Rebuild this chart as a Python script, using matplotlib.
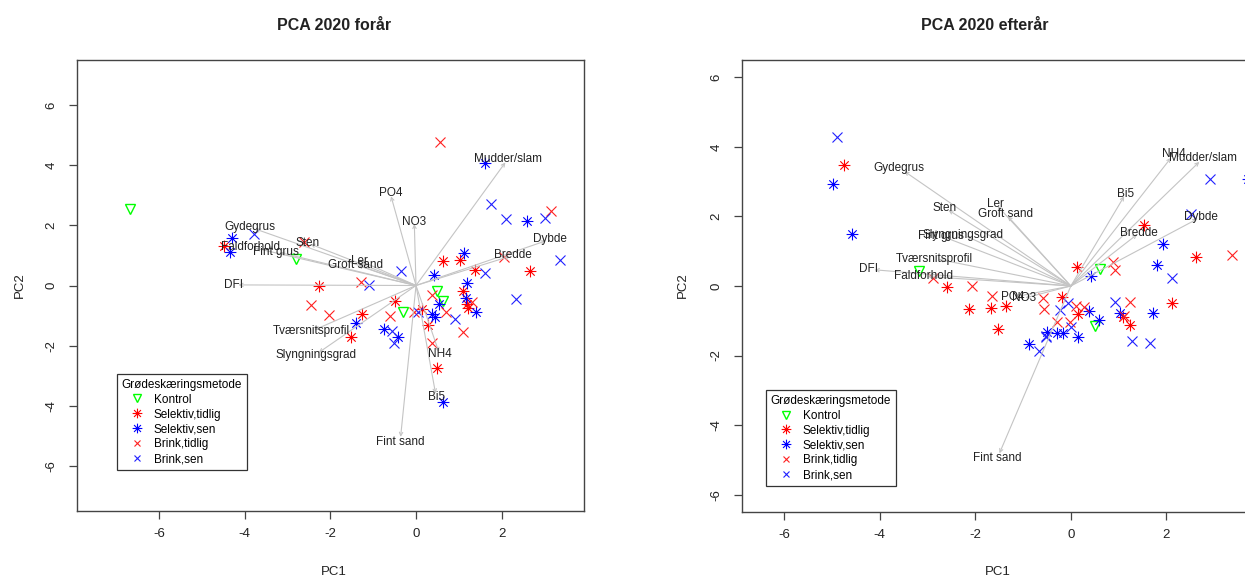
import matplotlib
matplotlib.use("Agg")
import matplotlib.pyplot as plt
from matplotlib.path import Path
from matplotlib.lines import Line2D

plt.rcParams["font.family"] = ["Liberation Sans", "DejaVu Sans"]
plt.rcParams["axes.unicode_minus"] = False

GROUPS = ["Kontrol", "Selektiv,tidlig", "Selektiv,sen", "Brink,tidlig", "Brink,sen"]

# ---- PCA 2020 forår: scores (PC1, PC2) per group
forar_kontrol = [(-6.67, 2.56), (-2.80, 0.89), (0.50, -0.17), (0.62, -0.50), (-0.30, -0.89)]
forar_sel_tidlig = [(-4.48, 1.30), (-2.26, -0.02), (0.62, 0.83), (1.03, 0.86), (1.38, 0.53),
                    (2.65, 0.48), (-0.50, -0.50), (-1.25, -0.95), (-1.52, -1.70), (0.28, -1.30),
                    (0.50, -2.75), (1.10, -0.18), (1.20, -0.62), (1.22, -0.76), (0.15, -0.78)]
forar_sel_sen = [(-4.30, 1.58), (-4.35, 1.13), (1.62, 4.06), (2.59, 2.13), (1.13, 1.09),
                 (0.43, 0.36), (1.19, 0.09), (1.17, -0.42), (1.40, -0.89), (0.53, -0.61),
                 (0.37, -0.94), (0.45, -1.06), (-1.39, -1.24), (-0.74, -1.44), (-0.43, -1.72),
                 (0.62, -3.89)]
forar_brink_tidlig = [(0.56, 4.78), (3.15, 2.48), (2.05, 0.95), (-2.62, 1.45), (-1.28, 0.13),
                      (-2.45, -0.64), (-2.02, -0.97), (-0.60, -1.00), (-0.05, -0.88), (0.37, -0.31),
                      (0.70, -0.87), (1.10, -1.55), (0.38, -1.90), (1.30, -0.55)]
forar_brink_sen = [(-3.79, 1.70), (-0.35, 0.48), (-1.10, 0.03), (1.75, 2.70), (2.10, 2.20),
                   (3.00, 2.25), (3.35, 0.86), (1.62, 0.41), (2.33, -0.44), (0.90, -1.11),
                   (0.05, -0.87), (-0.52, -1.92), (-0.55, -1.50)]

# ---- PCA 2020 forår: variable loadings (label positions)
forar_vars = ["Mudder/slam", "PO4", "NO3", "Gydegrus", "Sten", "Faldforhold", "Fint grus",
              "Ler", "Groft sand", "DFI", "Dybde", "Bredde", "Tværsnitsprofil",
              "Slyngningsgrad", "NH4", "Bi5", "Fint sand"]
forar_load_x = [2.15, -0.60, -0.04, -3.87, -2.54, -3.86, -3.27, -1.31, -1.40, -4.27,
                3.12, 2.26, -2.44, -2.34, 0.55, 0.47, -0.37]
forar_load_y = [4.22, 3.06, 2.11, 1.94, 1.42, 1.28, 1.13, 0.83, 0.69, 0.02,
                1.53, 1.00, -1.52, -2.30, -2.28, -3.70, -5.19]

# ---- PCA 2020 efterår: scores
efter_kontrol = [(-3.17, 0.43), (0.61, 0.48), (0.51, -1.16)]
efter_sel_tidlig = [(-4.74, 3.47), (1.53, 1.75), (2.61, 0.84), (0.13, 0.55), (-2.60, -0.02),
                    (-2.13, -0.67), (-1.68, -0.63), (-1.36, -0.57), (-1.52, -1.23), (-0.18, -0.32),
                    (0.14, -0.80), (1.10, -0.88), (1.23, -1.11), (2.11, -0.48)]
efter_sel_sen = [(-4.97, 2.94), (-4.57, 1.50), (1.92, 1.22), (1.81, 0.59), (0.42, 0.28),
                 (1.72, -0.77), (1.03, -0.77), (0.58, -0.97), (0.37, -0.72), (0.15, -1.48),
                 (-0.17, -1.34), (-0.30, -1.35), (-0.50, -1.31), (-0.87, -1.67), (3.70, 3.09)]
efter_brink_tidlig = [(3.38, 0.90), (0.89, 0.69), (0.92, 0.46), (-2.06, 0.00), (-1.66, -0.30),
                      (-0.58, -0.34), (-0.56, -0.67), (1.23, -0.46), (1.12, -0.86), (-0.30, -1.04),
                      (-0.02, -1.04), (0.11, -0.58), (0.28, -0.60), (-2.88, 0.24)]
efter_brink_sen = [(-4.90, 4.29), (2.92, 3.08), (2.52, 2.06), (2.11, 0.22), (0.92, -0.46),
                   (1.28, -1.58), (1.65, -1.65), (-0.23, -0.69), (-0.06, -0.48), (0.01, -1.19),
                   (-0.52, -1.43), (-0.66, -1.88), (-0.51, -1.48)]

efter_vars = ["Gydegrus", "Sten", "Ler", "Groft sand", "Slyngningsgrad", "Fint grus",
              "Tværsnitsprofil", "DFI", "Faldforhold", "PO4", "NO3", "Fint sand",
              "Bi5", "NH4", "Mudder/slam", "Dybde", "Bredde"]
efter_load_x = [-3.59, -2.64, -1.58, -1.36, -2.25, -2.71, -2.85, -4.23, -3.08, -1.21, -0.98,
                -1.54, 1.15, 2.16, 2.77, 2.73, 1.43]
efter_load_y = [3.40, 2.25, 2.37, 2.07, 1.48, 1.44, 0.79, 0.48, 0.28, -0.32, -0.35,
                -4.96, 2.66, 3.80, 3.68, 1.99, 1.53]

# R-like markers
STAR = Path([(-1, 0), (1, 0), (0, -1), (0, 1), (-0.71, -0.71), (0.71, 0.71), (-0.71, 0.71), (0.71, -0.71)],
            [Path.MOVETO, Path.LINETO] * 4)
STYLES = [
    dict(marker="v", color="#00FF00", ms=7, mew=1.0),
    dict(marker=STAR, color="#FF0000", ms=8.5, mew=0.8),
    dict(marker=STAR, color="#0000FF", ms=8.5, mew=0.8),
    dict(marker="x", color="#FF2020", ms=6.5, mew=0.8),
    dict(marker="x", color="#2020FF", ms=6.5, mew=0.8),
]
TXT = "#222222"
GREY = "#444444"


def panel(ax, groups, names, lx, ly, xlim, ylim, leg_anchor):
    for pts, st in zip(groups, STYLES):
        xs = [p[0] for p in pts]
        ys = [p[1] for p in pts]
        ax.plot(xs, ys, ls="none", marker=st["marker"], ms=st["ms"], mec=st["color"],
                mfc="none", mew=st["mew"], zorder=2)
    for name, x, y in zip(names, lx, ly):
        ax.annotate("", xy=(x * 0.97, y * 0.97), xytext=(0, 0),
                    arrowprops=dict(arrowstyle="->", color="#c4c4c4", lw=0.8,
                                    shrinkA=0, shrinkB=0, mutation_scale=6), zorder=3)
        ax.text(x, y, name, ha="center", va="center", fontsize=8.5, color=TXT, zorder=4)

    ax.set_xlim(*xlim)
    ax.set_ylim(*ylim)
    ax.set_xticks([-6, -4, -2, 0, 2])
    ax.set_yticks([-6, -4, -2, 0, 2, 4, 6])
    ax.tick_params(direction="out", length=6, width=0.9, color=GREY, labelcolor=TXT,
                   labelsize=9.5)
    ax.tick_params(axis="x", pad=6)
    ax.tick_params(axis="y", pad=8)
    for lab in ax.get_yticklabels():
        lab.set_rotation(90)
        lab.set_va("center")
    for sp in ax.spines.values():
        sp.set_color(GREY)
        sp.set_linewidth(1.0)

    handles = [Line2D([], [], ls="none", marker=st["marker"], ms=st["ms"] - 1.5, mec=st["color"],
                      mfc="none", mew=st["mew"]) for st in STYLES]
    leg = ax.legend(handles, GROUPS, title="Grødeskæringsmetode", loc="upper left",
                    bbox_to_anchor=leg_anchor, frameon=True, fancybox=False,
                    edgecolor="black", fontsize=8.5, title_fontsize=8.5, handlelength=2.6,
                    handletextpad=0.1, labelspacing=0.25, borderpad=0.4,
                    borderaxespad=0)
    leg.get_frame().set_linewidth(0.9)
    leg._legend_box.align = "left"


fig = plt.figure(figsize=(12.45, 5.77), dpi=100)
W, H = 1245, 577
ax1 = fig.add_axes([77 / W, 1 - 511 / H, 507 / W, 451 / H])
ax2 = fig.add_axes([742 / W, 1 - 512 / H, 510 / W, 452 / H])

panel(ax1, [forar_kontrol, forar_sel_tidlig, forar_sel_sen, forar_brink_tidlig, forar_brink_sen],
      forar_vars, forar_load_x, forar_load_y, (-7.91, 3.92), (-7.5, 7.5), (0.079, 0.304))
panel(ax2, [efter_kontrol, efter_sel_tidlig, efter_sel_sen, efter_brink_tidlig, efter_brink_sen],
      efter_vars, efter_load_x, efter_load_y, (-6.88, 3.79), (-6.5, 6.5), (0.047, 0.27))

fig.text(334 / W, 1 - 25 / H, "PCA 2020 forår", ha="center", va="center",
         fontsize=11.5, fontweight="bold", color=TXT)
fig.text(985 / W, 1 - 25 / H, "PCA 2020 efterår", ha="center", va="center",
         fontsize=11.5, fontweight="bold", color=TXT)
fig.text(334 / W, 1 - 572 / H, "PC1", ha="center", va="center", fontsize=9.5, color=TXT)
fig.text(998 / W, 1 - 572 / H, "PC1", ha="center", va="center", fontsize=9.5, color=TXT)
fig.text(20 / W, 1 - 285 / H, "PC2", ha="center", va="center", rotation=90, fontsize=9.5, color=TXT)
fig.text(683 / W, 1 - 285 / H, "PC2", ha="center", va="center", rotation=90, fontsize=9.5, color=TXT)

fig.savefig("out.png", dpi=100, facecolor="white")
